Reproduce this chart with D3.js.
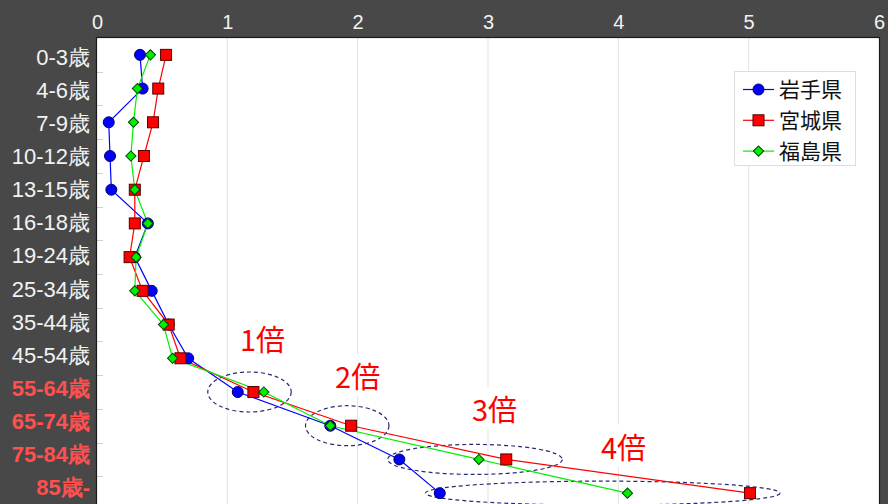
<!DOCTYPE html>
<html>
<head>
<meta charset="utf-8">
<script src="https://cdn.jsdelivr.net/npm/d3@7"></script>
<style>
  body { margin: 0; background: #484848; }
  svg { display: block; font-family: "Noto Sans CJK JP", "Noto Sans", sans-serif; }
</style>
</head>
<body>
<svg id="chart" width="888" height="504"></svg>
<script>
const ageGroups = ['0-3歳', '4-6歳', '7-9歳', '10-12歳', '13-15歳', '16-18歳', '19-24歳',
  '25-34歳', '35-44歳', '45-54歳', '55-64歳', '65-74歳', '75-84歳', '85歳-'];
const highlighted = ['55-64歳', '65-74歳', '75-84歳', '85歳-'];

const iwate = [0.33, 0.35, 0.09, 0.10, 0.11, 0.39, 0.29, 0.42, 0.55, 0.70, 1.08, 1.79, 2.32, 2.63];
const miyagi = [0.53, 0.47, 0.43, 0.36, 0.29, 0.29, 0.25, 0.35, 0.55, 0.64, 1.20, 1.95, 3.14, 5.01];
const fukushima = [0.41, 0.31, 0.28, 0.26, 0.29, 0.39, 0.30, 0.29, 0.51, 0.58, 1.28, 1.79, 2.93, 4.07];

const xTicks = [0, 1, 2, 3, 4, 5, 6];

// ratio callouts, placed in data units on the row they mark
const ratioLabels = ['1倍', '2倍', '3倍', '4倍'];
const ratioRows = ['55-64歳', '65-74歳', '75-84歳', '85歳-'];
const ellipseCx = [1.17, 1.92, 2.90, 3.88];
const ellipseRx = [0.32, 0.32, 0.67, 1.36];
const ellipseRy = [20, 20, 15, 12];
const labelX = [1.27, 2.0, 3.05, 4.04];
const labelDy = [-51, -48, -49, -45];

const series = [
  { name: '岩手県', values: iwate, color: '#0000ff', stroke: '#000066', shape: 'circle' },
  { name: '宮城県', values: miyagi, color: '#ff0000', stroke: '#550000', shape: 'square' },
  { name: '福島県', values: fukushima, color: '#00ee00', stroke: '#004400', shape: 'diamond' }
];

const svg = d3.select('#chart');
const W = 888, H = 504;
const plotL = 97, plotR = 879, plotT = 38, plotB = 510;

const x = d3.scaleLinear().domain([0, 6]).range([plotL, plotR]);
const y = d3.scaleBand().domain(ageGroups).range([plotT, plotB]).padding(0);
const yc = d => y(d) + y.bandwidth() / 2;
// the category labels sit on a slightly tighter pitch than the rows
const yLabel = d3.scaleBand().domain(ageGroups).range([40.5, 503.6]).padding(0);

svg.append('rect').attr('width', W).attr('height', H).attr('fill', '#484848');
svg.append('rect')
  .attr('x', plotL).attr('y', plotT)
  .attr('width', plotR - plotL).attr('height', plotB - plotT)
  .attr('fill', '#ffffff');

// vertical grid
svg.append('g')
  .selectAll('line')
  .data(xTicks.slice(1, -1))
  .join('line')
  .attr('x1', d => x(d)).attr('x2', d => x(d))
  .attr('y1', plotT).attr('y2', plotB)
  .attr('stroke', '#e2e2e2').attr('stroke-width', 1);

// small category ticks inside left edge
svg.append('g')
  .selectAll('line')
  .data(ageGroups.slice(1))
  .join('line')
  .attr('x1', plotL).attr('x2', plotL + 6)
  .attr('y1', d => Math.round(y(d)) + 0.5).attr('y2', d => Math.round(y(d)) + 0.5)
  .attr('stroke', '#d0d0d0');

// plot border
svg.append('rect')
  .attr('x', plotL - 0.5).attr('y', plotT - 0.5)
  .attr('width', plotR - plotL + 1).attr('height', plotB - plotT + 1)
  .attr('fill', 'none').attr('stroke', '#1a1a1a').attr('stroke-width', 1.2);

// top axis
const xAxis = svg.append('g')
  .attr('transform', `translate(0,${plotT})`)
  .call(d3.axisTop(x).tickValues(xTicks).tickSize(0).tickPadding(9).tickFormat(d3.format('d')));
xAxis.select('.domain').remove();
xAxis.selectAll('text')
  .attr('fill', '#f2f2f2').attr('font-size', 20)
  .attr('font-family', '"Liberation Sans", Arial, sans-serif');

// left axis labels
const yAxis = svg.append('g')
  .attr('transform', `translate(${plotL},0)`)
  .call(d3.axisLeft(yLabel).tickSize(0).tickPadding(7));
yAxis.select('.domain').remove();
yAxis.selectAll('text')
  .attr('font-size', 22)
  .attr('dy', '0.36em')
  .attr('fill', d => highlighted.includes(d) ? '#ff5050' : '#f2f2f2')
  .attr('font-weight', d => highlighted.includes(d) ? 'bold' : 'normal');

// ratio callouts
const callouts = svg.append('g');
ratioRows.forEach((row, i) => {
  callouts.append('ellipse')
    .attr('cx', x(ellipseCx[i])).attr('cy', yc(row))
    .attr('rx', x(ellipseRx[i]) - x(0)).attr('ry', ellipseRy[i])
    .attr('fill', 'none').attr('stroke', '#2a2a70')
    .attr('stroke-width', 1.2).attr('stroke-dasharray', '4,3');
});

// lines
const line = d3.line().x(d => x(d[0])).y(d => yc(d[1]));
series.forEach(s => {
  svg.append('path')
    .datum(s.values.map((v, i) => [v, ageGroups[i]]))
    .attr('d', line)
    .attr('fill', 'none').attr('stroke', s.color).attr('stroke-width', 1.2);
});

function drawMarker(g, shape, cx, cy, fill, stroke) {
  if (shape === 'circle') {
    g.append('circle').attr('cx', cx).attr('cy', cy).attr('r', 5.5)
      .attr('fill', fill).attr('stroke', stroke).attr('stroke-width', 1);
  } else if (shape === 'square') {
    g.append('rect').attr('x', cx - 5.5).attr('y', cy - 5.5).attr('width', 11).attr('height', 11)
      .attr('fill', fill).attr('stroke', stroke).attr('stroke-width', 1);
  } else {
    g.append('path').attr('transform', `translate(${cx},${cy}) rotate(45)`)
      .attr('d', 'M-3.6,-3.6H3.6V3.6H-3.6Z')
      .attr('fill', fill).attr('stroke', stroke).attr('stroke-width', 1);
  }
}

// markers
series.forEach(s => {
  const g = svg.append('g');
  s.values.forEach((v, i) => drawMarker(g, s.shape, x(v), yc(ageGroups[i]), s.color, s.stroke));
});

// ratio labels with white backing
ratioRows.forEach((row, i) => {
  const t = svg.append('text')
    .attr('x', x(labelX[i])).attr('y', yc(row) + labelDy[i])
    .attr('text-anchor', 'middle').attr('dy', '0.36em')
    .attr('font-size', 29).attr('fill', '#ff0000')
    .text(ratioLabels[i]);
  const bb = t.node().getBBox();
  svg.insert('rect', () => t.node())
    .attr('x', bb.x - 4).attr('y', bb.y).attr('width', bb.width + 8).attr('height', bb.height)
    .attr('fill', '#ffffff');
});

// legend
const legend = svg.append('g').attr('transform', 'translate(734,71)');
legend.append('rect')
  .attr('x', 0.5).attr('y', 0.5).attr('width', 121).attr('height', 94)
  .attr('fill', '#ffffff').attr('stroke', '#dddddd');
series.forEach((s, i) => {
  const ly = 18.5 + i * 30.8;
  legend.append('line').attr('x1', 9).attr('x2', 40).attr('y1', ly).attr('y2', ly)
    .attr('stroke', s.color).attr('stroke-width', 1.2);
  drawMarker(legend, s.shape, 24.5, ly, s.color, s.stroke);
  legend.append('text').attr('x', 45).attr('y', ly).attr('dy', '0.36em')
    .attr('font-size', 21).attr('fill', '#111111').text(s.name);
});
</script>
</body>
</html>
